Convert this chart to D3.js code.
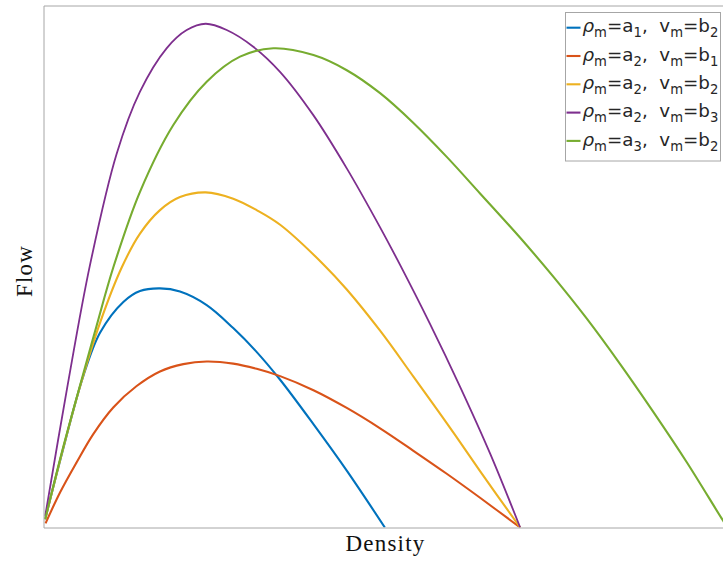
<!DOCTYPE html>
<html><head><meta charset="utf-8">
<script src="https://cdn.jsdelivr.net/npm/d3@7"></script>
<style>body{margin:0;background:#fff}svg{display:block}</style>
</head><body>
<script>
// Density values (x) and flow values (y), per curve
const blueRho   = [0.25, 2.72, 5.85, 8.31, 11.74, 14.19, 17.13, 20.07, 24.0, 27.9, 31.3, 34.8, 39.8, 44.7, 50.2];
const blueQ     = [1.6, 14.2, 29.0, 37.3, 43.2, 45.3, 45.8, 45.2, 42.6, 38.2, 33.7, 28.3, 19.6, 10.7, 0];
const orangeRho = [0.3, 2.43, 4.88, 7.32, 10.26, 13.7, 17.13, 20.56, 24.0, 27.9, 31.35, 34.8, 39.7, 44.6, 49.5, 54.4, 59.3, 64.2, 70.1];
const orangeQ   = [0.8, 6.7, 12.5, 17.9, 23.0, 27.1, 29.9, 31.3, 31.8, 31.4, 30.4, 29.0, 26.3, 22.9, 19.0, 14.7, 10.3, 5.7, 0];
const yellowRho = [0.25, 2.72, 5.37, 8.31, 11.5, 14.19, 17.13, 20.07, 23.85, 27.9, 31.35, 34.8, 41.1, 44.6, 49.5, 54.4, 59.3, 64.2, 70.1];
const yellowQ   = [1.6, 14.3, 27.0, 39.2, 49.8, 56.3, 60.8, 63.3, 64.2, 63.0, 60.8, 58.0, 50.5, 45.6, 37.7, 28.9, 20.0, 10.8, 0];
const purpleRho = [0.25, 3.46, 6.84, 10.76, 14.19, 18.1, 21.06, 23.85, 26.94, 30.85, 34.78, 39.68, 44.6, 49.5, 52.4, 56.8, 61.25, 65.7, 70.1];
const purpleQ   = [2.2, 26.6, 50.3, 71.6, 83.5, 91.8, 95.3, 96.5, 95.3, 92.1, 87.3, 79.0, 68.8, 57.5, 50.4, 39.1, 27.0, 14.1, 0];
const greenRho  = [0.25, 2.72, 5.37, 7.8, 10.26, 14.19, 19.09, 24.0, 28.9, 33.8, 39.7, 44.6, 49.5, 54.4, 59.3, 64.2, 70.1, 75.0, 79.9, 84.8, 89.7, 94.6, 99.7, 100.6];
const greenQ    = [1.6, 14.5, 27.2, 38.6, 49.8, 64.3, 77.1, 85.4, 90.2, 91.8, 90.5, 87.6, 83.2, 77.5, 71.0, 64.0, 55.5, 48.0, 40.0, 31.3, 22.1, 12.5, 1.8, 0];

const seriesNames = [["a","1","b","2"],["a","2","b","1"],["a","2","b","2"],["a","2","b","3"],["a","3","b","2"]];
const seriesColors = ["#0072BD","#D95319","#EDB120","#7E2F8E","#77AC30"];
const xLabel = "Density", yLabel = "Flow";

const W = 723, H = 563;
const svg = d3.select("body").append("svg").attr("width", W).attr("height", H);
const x = d3.scaleLinear().domain([0, 100]).range([43.5, 723.5]);
const y = d3.scaleLinear().domain([0, 100]).range([527.5, 5.5]);

svg.append("clipPath").attr("id","clip").append("rect")
  .attr("x", x(0)).attr("y", y(100)).attr("width", x(100)-x(0)).attr("height", y(0)-y(100));

const series = [
  [blueRho, blueQ], [orangeRho, orangeQ], [yellowRho, yellowQ], [purpleRho, purpleQ], [greenRho, greenQ]
].map(([r,q]) => r.map((v,i) => [v, q[i]]));

const line = d3.line().x(d => x(d[0])).y(d => y(d[1])).curve(d3.curveCatmullRom.alpha(0.5));
const g = svg.append("g").attr("clip-path","url(#clip)");
series.forEach((s,i) => {
  g.append("path").datum(s).attr("d", line).attr("fill","none")
   .attr("stroke", seriesColors[i]).attr("stroke-width", i===3 ? 1.8 : 2.1)
   .attr("stroke-linejoin","round");
});

// axes (no ticks)
const axC = "#a6a6a6";
svg.append("g").attr("transform", `translate(0,${y(0)})`)
  .call(d3.axisBottom(x).tickValues([]).tickSizeOuter(0))
  .call(a => a.select(".domain").attr("stroke", axC));
svg.append("g").attr("transform", `translate(${x(0)},0)`)
  .call(d3.axisLeft(y).tickValues([]).tickSizeOuter(0))
  .call(a => a.select(".domain").attr("stroke", axC));
svg.append("g").attr("transform", `translate(0,${y(100)})`)
  .call(d3.axisTop(x).tickValues([]).tickSizeOuter(0))
  .call(a => a.select(".domain").attr("stroke", axC));

// axis labels
svg.append("text").attr("x", 385.5).attr("y", 551)
  .attr("text-anchor","middle").attr("font-family","Liberation Serif")
  .attr("font-size", 23).attr("letter-spacing", 1.2).attr("fill","#111").text(xLabel);
svg.append("text").attr("transform","translate(32,271) rotate(-90)")
  .attr("text-anchor","middle").attr("font-family","Liberation Serif")
  .attr("font-size", 23).attr("letter-spacing", 1.2).attr("fill","#111").text(yLabel);

// legend
const lg = svg.append("g");
lg.append("rect").attr("x", 565.5).attr("y", 12.5).attr("width", 155).attr("height", 148.5)
  .attr("fill","#fff").attr("stroke", axC).attr("stroke-width", 1);
const fs = 18.3, sfs = 13.2;
seriesNames.forEach((n,i) => {
  const cy = 27.7 + i*28.3;
  lg.append("line").attr("x1", 566.5).attr("x2", 580.5).attr("y1", cy).attr("y2", cy)
    .attr("stroke", seriesColors[i]).attr("stroke-width", 2.1);
  const t = lg.append("text").attr("x", 582.5).attr("y", cy + 4.6)
    .attr("font-family","DejaVu Sans").attr("font-size", fs).attr("fill","#262626");
  t.append("tspan").attr("font-style","italic").text("ρ");
  t.append("tspan").attr("font-size", sfs).attr("dy", 5).text("m");
  t.append("tspan").attr("dy", -5).text("=" + n[0]);
  t.append("tspan").attr("font-size", sfs).attr("dy", 5).text(n[1]);
  t.append("tspan").attr("dy", -5).text(",\u00a0\u00a0v");
  t.append("tspan").attr("font-size", sfs).attr("dy", 5).text("m");
  t.append("tspan").attr("dy", -5).text("=" + n[2]);
  t.append("tspan").attr("font-size", sfs).attr("dy", 5).text(n[3]);
});
</script>
</body></html>
